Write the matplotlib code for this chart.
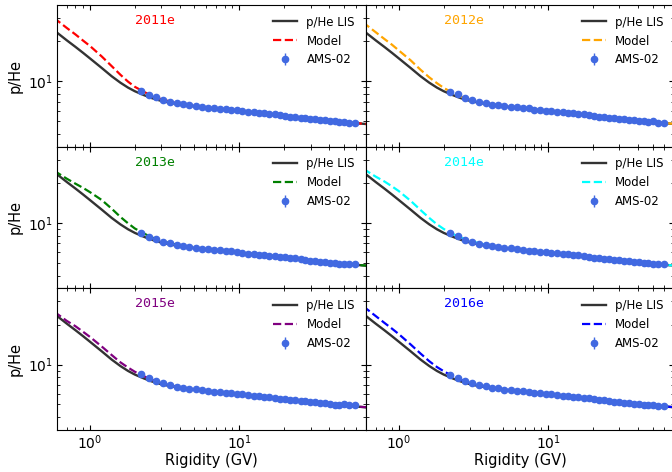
import numpy as np
import matplotlib
matplotlib.use("Agg")
import matplotlib.pyplot as plt

# --- Rigidity grids ---
rig_curve = [0.5, 0.6, 0.7, 0.8, 0.9, 1.0, 1.2, 1.4, 1.6, 1.8, 2.0, 2.3, 2.6, 3.0, 3.5, 4.0,
             5.0, 6.0, 8.0, 10, 13, 16, 20, 25, 30, 40, 50, 60, 70, 80]
rig_ams = [2.2, 2.48, 2.78, 3.1, 3.44, 3.81, 4.2, 4.63, 5.1, 5.6, 6.16, 6.75, 7.4,
           8.09, 8.84, 9.65, 10.5, 11.5, 12.5, 13.5, 14.7, 15.9, 17.3, 18.7, 20.3, 21.9,
           23.7, 25.7, 27.7, 29.9, 32.3, 34.8, 37.5, 40.4, 43.5, 46.8, 50.3, 54.6, 59.5]

# --- Local interstellar p/He ratio ---
lis = [27.6, 23.4, 20.4, 18.2, 16.4, 14.9, 12.6, 10.9, 9.75, 8.95, 8.40, 7.85, 7.45, 7.10,
       6.85, 6.68, 6.45, 6.30, 6.10, 5.96, 5.78, 5.63, 5.47, 5.32, 5.20, 5.03, 4.91, 4.82,
       4.75, 4.69]

# --- Modulated model, per year ---
model_2011 = [34.5, 29.0, 25.3, 22.6, 20.3, 18.5, 15.4, 13.0, 11.2, 9.93, 9.07, 8.32, 7.75,
              7.31, 6.99, 6.75, 6.50, 6.34, 6.14, 5.97, 5.79, 5.66, 5.47, 5.33, 5.21, 5.03,
              4.91, 4.82, 4.76, 4.70]
model_2012 = [32.0, 26.9, 23.5, 20.9, 18.9, 17.1, 14.4, 12.2, 10.7, 9.67, 8.90, 8.16, 7.67,
              7.24, 6.92, 6.75, 6.50, 6.34, 6.14, 5.97, 5.79, 5.66, 5.47, 5.33, 5.21, 5.03,
              4.91, 4.82, 4.76, 4.70]
model_2013 = [28.2, 24.1, 21.6, 19.8, 18.4, 17.1, 14.9, 12.8, 11.1, 9.93, 9.07, 8.32, 7.75,
              7.31, 6.99, 6.75, 6.50, 6.34, 6.14, 5.97, 5.79, 5.66, 5.47, 5.33, 5.21, 5.03,
              4.91, 4.82, 4.76, 4.70]
model_2014 = [29.0, 25.0, 22.4, 20.6, 18.9, 17.4, 14.7, 12.5, 10.9, 9.76, 8.99, 8.24, 7.75,
              7.31, 6.99, 6.75, 6.50, 6.34, 6.14, 5.97, 5.79, 5.66, 5.47, 5.33, 5.21, 5.03,
              4.91, 4.82, 4.76, 4.70]
model_2015 = [28.4, 24.3, 21.4, 19.5, 17.7, 16.2, 13.7, 11.8, 10.4, 9.49, 8.82, 8.16, 7.67,
              7.24, 6.92, 6.75, 6.50, 6.34, 6.14, 5.97, 5.79, 5.66, 5.47, 5.33, 5.21, 5.03,
              4.91, 4.82, 4.76, 4.70]
model_2016 = [31.2, 26.7, 23.3, 20.7, 18.7, 17.0, 14.2, 12.1, 10.6, 9.58, 8.90, 8.16, 7.67,
              7.24, 6.92, 6.68, 6.50, 6.34, 6.14, 5.97, 5.79, 5.66, 5.47, 5.33, 5.21, 5.03,
              4.91, 4.82, 4.76, 4.70]

# --- AMS-02 yearly p/He ---
ams_2011 = [8.48, 7.82, 7.55, 7.24, 6.98, 6.86, 6.68, 6.62, 6.45, 6.43, 6.30, 6.29, 6.17,
            6.15, 6.05, 6.02, 5.93, 5.90, 5.84, 5.75, 5.73, 5.63, 5.61, 5.52, 5.49, 5.40,
            5.38, 5.29, 5.28, 5.19, 5.17, 5.10, 5.08, 5.01, 5.00, 4.93, 4.92, 4.85, 4.82]
ams_2012 = [8.36, 7.94, 7.47, 7.25, 6.97, 6.85, 6.66, 6.62, 6.50, 6.38, 6.35, 6.24, 6.22,
            6.11, 6.09, 5.98, 5.97, 5.86, 5.84, 5.75, 5.73, 5.63, 5.61, 5.52, 5.49, 5.40,
            5.39, 5.29, 5.28, 5.18, 5.17, 5.09, 5.08, 5.00, 5.01, 4.92, 4.98, 4.86, 4.81]
ams_2013 = [8.42, 7.86, 7.52, 7.18, 7.03, 6.80, 6.72, 6.57, 6.50, 6.39, 6.35, 6.24, 6.22,
            6.11, 6.08, 5.98, 5.96, 5.86, 5.84, 5.75, 5.72, 5.63, 5.60, 5.52, 5.48, 5.40,
            5.38, 5.30, 5.27, 5.19, 5.17, 5.10, 5.08, 5.01, 4.99, 4.93, 4.86, 4.90, 4.86]
ams_2014 = [8.34, 7.92, 7.48, 7.23, 6.98, 6.84, 6.67, 6.61, 6.46, 6.43, 6.31, 6.28, 6.18,
            6.15, 6.05, 6.02, 5.93, 5.90, 5.80, 5.79, 5.69, 5.67, 5.57, 5.56, 5.45, 5.44,
            5.35, 5.33, 5.24, 5.23, 5.14, 5.13, 5.05, 5.05, 4.97, 4.97, 4.93, 4.85, 4.86]
ams_2015 = [8.41, 7.88, 7.52, 7.19, 7.01, 6.81, 6.70, 6.58, 6.49, 6.40, 6.34, 6.25, 6.21,
            6.12, 6.08, 5.99, 5.96, 5.87, 5.83, 5.76, 5.72, 5.64, 5.60, 5.53, 5.48, 5.41,
            5.38, 5.30, 5.27, 5.20, 5.17, 5.10, 5.08, 5.02, 4.97, 4.96, 5.00, 4.96, 4.93]
ams_2016 = [8.37, 7.91, 7.49, 7.22, 6.99, 6.83, 6.68, 6.60, 6.47, 6.42, 6.32, 6.27, 6.19,
            6.14, 6.06, 6.01, 5.94, 5.89, 5.81, 5.78, 5.70, 5.66, 5.58, 5.55, 5.46, 5.43,
            5.36, 5.32, 5.25, 5.22, 5.15, 5.12, 5.06, 5.04, 4.96, 4.95, 4.92, 4.88, 4.86]
ams_err = [0.06, 0.05, 0.05, 0.04, 0.04, 0.04, 0.04, 0.04, 0.04, 0.04, 0.04, 0.04, 0.04,
           0.04, 0.04, 0.04, 0.04, 0.04, 0.04, 0.04, 0.04, 0.04, 0.04, 0.04, 0.04, 0.04,
           0.05, 0.05, 0.05, 0.05, 0.05, 0.05, 0.05, 0.06, 0.06, 0.06, 0.07, 0.07, 0.08]

years = ["2011e", "2012e", "2013e", "2014e", "2015e", "2016e"]
colors = ["red", "orange", "green", "cyan", "purple", "blue"]
models = [model_2011, model_2012, model_2013, model_2014, model_2015, model_2016]
ams_sets = [ams_2011, ams_2012, ams_2013, ams_2014, ams_2015, ams_2016]

fig, axes = plt.subplots(3, 2, sharex=True, sharey=True, figsize=(6.72, 4.72), dpi=100)
fig.subplots_adjust(left=0.0844, right=1.0037, bottom=0.089, top=0.9894,
                    wspace=0, hspace=0)

for i, ax in enumerate(axes.flat):
    ax.plot(rig_curve, lis, color='0.2', lw=1.7, label="p/He LIS")
    ax.plot(rig_curve, models[i], '--', color=colors[i], lw=1.6, label="Model")
    ax.errorbar(rig_ams, ams_sets[i], yerr=ams_err, fmt='o', color='royalblue',
                ms=4.5, elinewidth=1, label="AMS-02")
    ax.set_xscale('log')
    ax.set_yscale('log')
    ax.text(0.318, 0.89, years[i], color=colors[i], family='DejaVu Sans Mono',
            fontsize=9.5, ha='center', va='center', transform=ax.transAxes)
    ax.legend(loc='upper right', frameon=False, fontsize=8.5)
    ax.tick_params(which='both', direction='in', top=True, right=True,
                   labelsize=10, pad=2.5)
    if i % 2 == 0:
        ax.set_ylabel("p/He", fontsize=10.5)
    if i >= 4:
        ax.set_xlabel("Rigidity (GV)", fontsize=10.5, labelpad=1)

axes[0, 0].set_xlim(0.6, 70)
axes[0, 0].set_ylim(3.2, 37.7)

fig.savefig("out.png", dpi=100)
